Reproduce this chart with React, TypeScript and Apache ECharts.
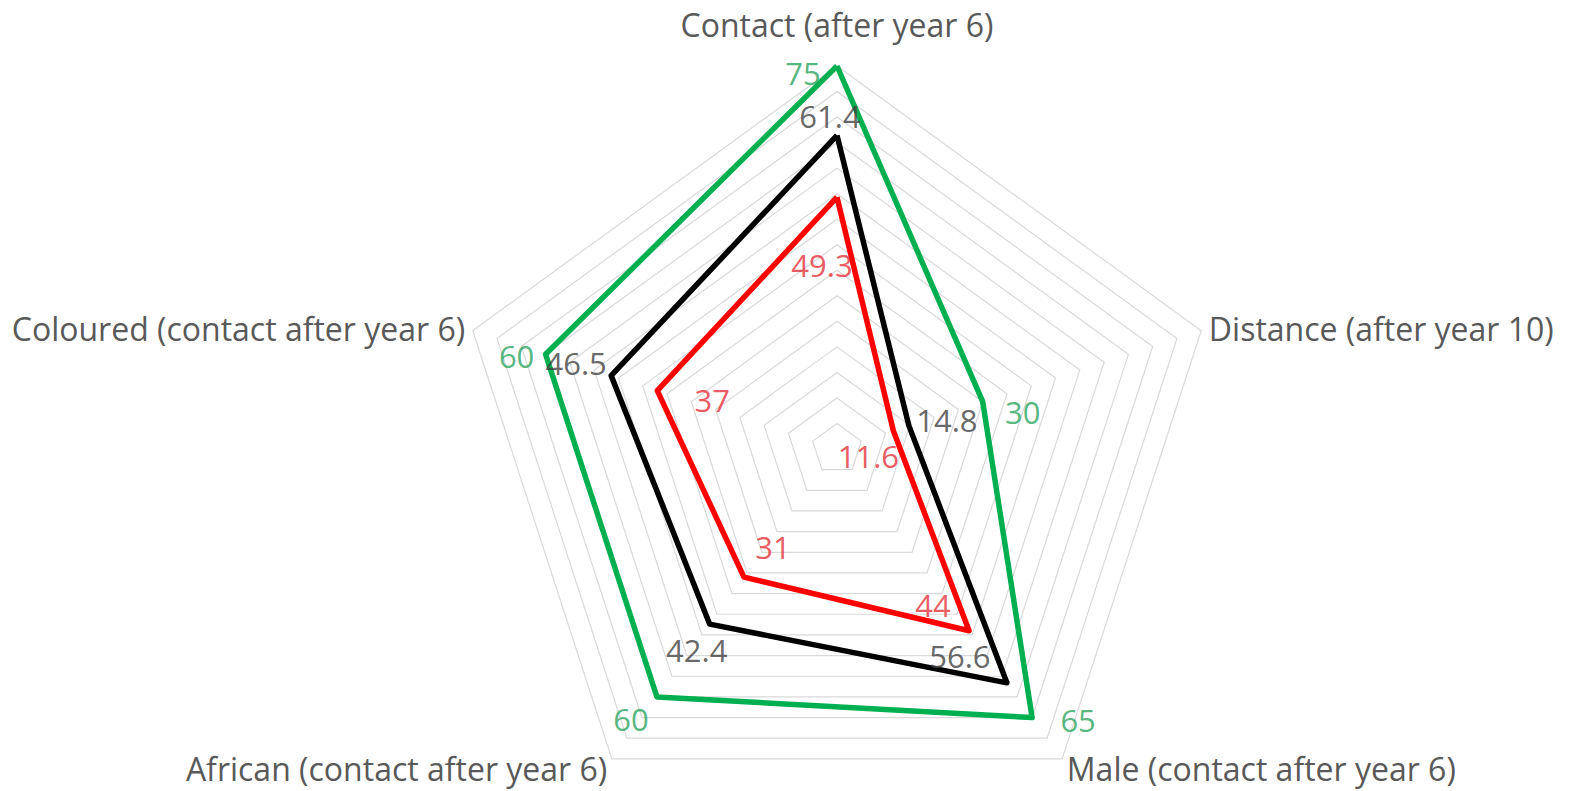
import React, { useEffect, useRef } from "react";
import * as echarts from "echarts";

// ---- data ----
const indicatorNames = [
  "Contact (after year 6)",
  "Coloured (contact after year 6)",
  "African (contact after year 6)",
  "Male (contact after year 6)",
  "Distance (after year 10)",
];
const axisMin = 0;
const axisMax = 75;
const ringCount = 15;

const greenValues = [75, 60, 60, 65, 30];
const blackValues = [61.4, 46.5, 42.4, 56.6, 14.8];
const redValues = [49.3, 37, 31, 44, 11.6];

// ---- styling (label placement per point, in px, relative to vertex) ----
const greenOffsets = [[-34, 7], [-29, 2], [-26, 22], [46, 2], [40, 10]];
const blackOffsets = [[-7, -19], [-35, -13], [-13, 26], [-47, -27], [38, -6]];
const redOffsets = [[-15, 68], [55, 9], [29, -30], [-36, -26], [-25, 25]];

const FONT = "Open Sans";
const CENTER = [837, 449];
const RADIUS = 383;
const NAME_SIZE = 32;
const LABEL_SIZE = 31;
const NAME_COLOR = "#595959";

const seriesDefs = [
  { name: "Green", values: greenValues, line: "#00B050", text: "#2BA35E", offsets: greenOffsets },
  { name: "Black", values: blackValues, line: "#000000", text: "#404040", offsets: blackOffsets },
  { name: "Red", values: redValues, line: "#FF0000", text: "#E3303A", offsets: redOffsets },
];

export default function App() {
  const ref = useRef<HTMLDivElement>(null);
  useEffect(() => {
    if (!ref.current) return;
    const chart = echarts.init(ref.current, null, { renderer: "svg" });
    const labelSeries = seriesDefs.map((s) => ({
      type: "scatter",
      name: s.name + " labels",
      coordinateSystem: "polar",
      symbolSize: 0,
      silent: true,
      z: 5,
      data: s.values.map((v, i) => ({
        value: [v, i],
        label: {
          show: true,
          position: "inside",
          formatter: String(v),
          offset: s.offsets[i],
          color: s.text,
          fontSize: LABEL_SIZE,
          fontFamily: FONT,
        },
      })),
    }));
    const nameStyle = { color: NAME_COLOR, fontSize: NAME_SIZE, fontFamily: FONT };
    chart.setOption({
      animation: false,
      backgroundColor: "#ffffff",
      radar: {
        center: CENTER,
        radius: RADIUS,
        startAngle: 90,
        splitNumber: ringCount,
        shape: "polygon",
        nameGap: 8,
        indicator: indicatorNames.map((n) => ({ name: n, min: axisMin, max: axisMax })),
        axisName: {
          ...nameStyle,
          formatter: (name: string) => {
            if (name === indicatorNames[0]) return `{top|${name}}`;
            if (name === indicatorNames[2] || name === indicatorNames[3]) return `{bottom|${name}}`;
            return name;
          },
          rich: {
            top: { ...nameStyle, padding: [0, 0, 18, 0] },
            bottom: { ...nameStyle, padding: [6, 0, 0, 0] },
          },
        },
        axisLine: { show: false },
        axisTick: { show: false },
        axisLabel: { show: false },
        splitLine: { lineStyle: { color: "#d9d9d9", width: 1.2 } },
        splitArea: { show: false },
      },
      polar: { center: CENTER, radius: RADIUS },
      angleAxis: {
        type: "value",
        min: 0,
        max: indicatorNames.length,
        startAngle: 90,
        clockwise: false,
        show: false,
      },
      radiusAxis: { type: "value", min: axisMin, max: axisMax, show: false },
      series: [
        {
          type: "radar",
          symbol: "none",
          silent: true,
          data: seriesDefs.map((s) => ({
            name: s.name,
            value: s.values,
            lineStyle: { color: s.line, width: 5.5 },
            itemStyle: { color: s.line },
          })),
        },
        ...labelSeries,
      ],
    });
    return () => chart.dispose();
  }, []);
  return (
    <div
      ref={ref}
      style={{ position: "fixed", left: 0, top: 0, width: 1571, height: 791, background: "#fff" }}
    />
  );
}
